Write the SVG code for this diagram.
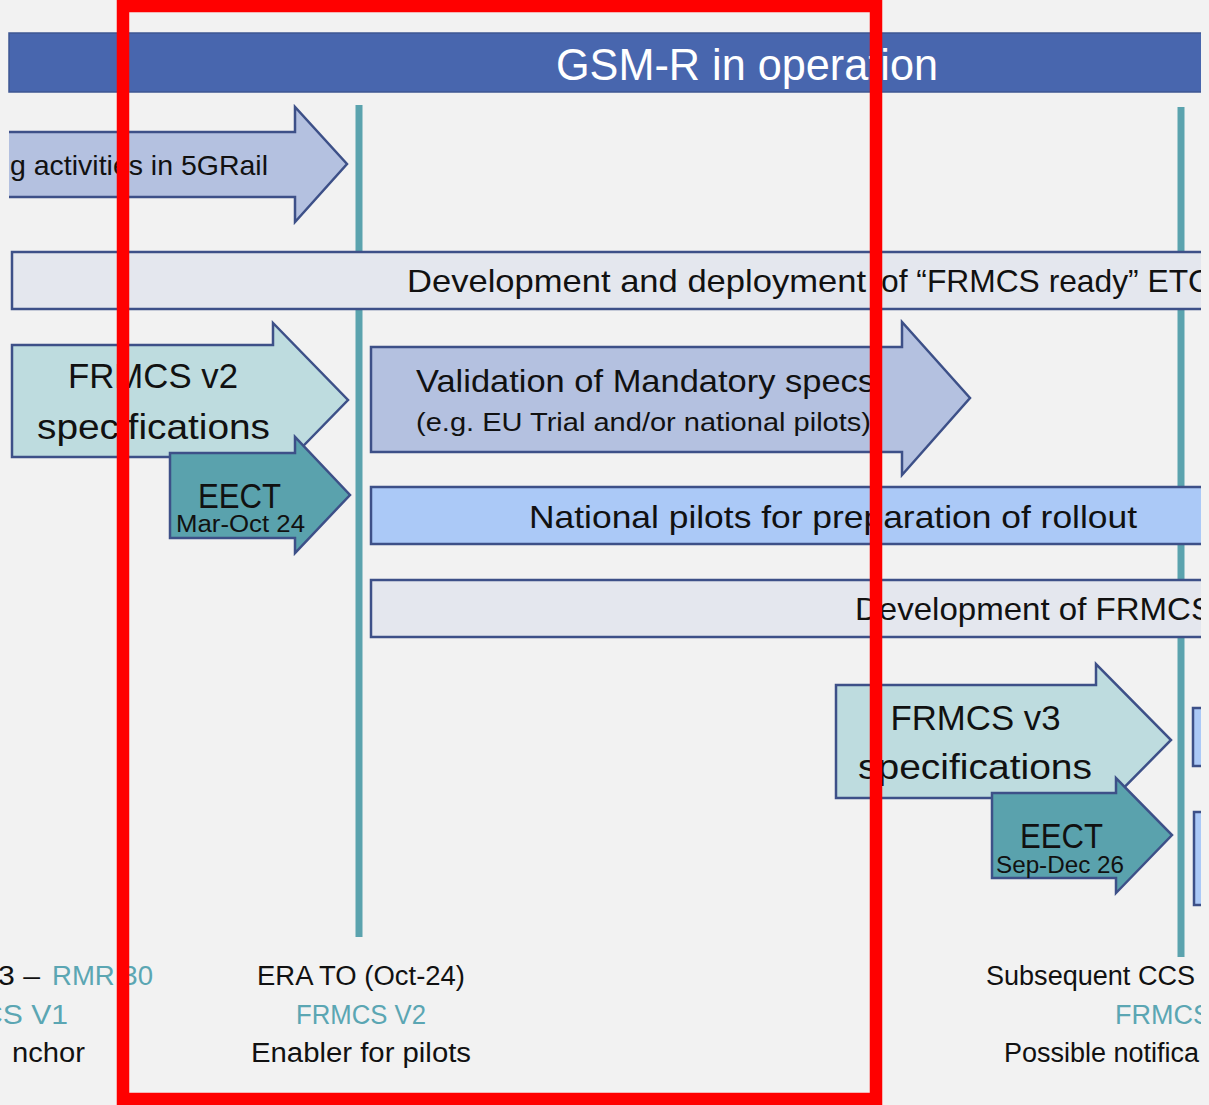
<svg xmlns="http://www.w3.org/2000/svg" width="1209" height="1105" viewBox="0 0 1209 1105">
<defs>
<clipPath id="clipR"><rect x="0" y="0" width="1201" height="1105"/></clipPath>
<style>
text{font-family:"Liberation Sans",Arial,sans-serif;fill:#111;}
.shape{stroke:#3d5088;stroke-width:2.5;}
.lav{fill:#b4c1e0;}
.aqua{fill:#bedcdf;}
.eect{fill:#5aa2ad;}
.blue{fill:#abc9f7;}
.grey{fill:#e4e7ee;}
.ms{stroke:#5ba3ae;stroke-width:7;}
.teal{fill:#5ba6b3;}
.t32{font-size:32px;}
.t35{font-size:35px;}
.t27{font-size:27px;}
</style>
</defs>
<rect x="0" y="0" width="1209" height="1105" fill="#f2f2f2"/>
<g clip-path="url(#clipR)">
<g id="banner">
<rect x="9" y="33" width="1200" height="59" fill="#4866ae" stroke="#3e5792" stroke-width="1.5"/>
<text x="747" y="80" text-anchor="middle" font-size="44" textLength="382" lengthAdjust="spacingAndGlyphs" style="fill:#ffffff">GSM-R in operation</text>
</g>
<g id="connectors">
<line class="ms" x1="359" y1="105" x2="359" y2="937"/>
<line class="ms" x1="1181" y1="107" x2="1181" y2="957"/>
</g>
<g id="n-5grail">
<path class="shape lav" d="M9,132 H295 V107 L347,164 L295,222 V197 H9"/>
<text x="10" y="175" font-size="28" textLength="258" lengthAdjust="spacingAndGlyphs">g activities in 5GRail</text>
</g>
<g id="n-etcs">
<rect class="shape grey" x="12" y="252" width="1210" height="57"/>
<text class="t32" y="292"><tspan x="407" textLength="459" lengthAdjust="spacingAndGlyphs">Development and deployment</tspan><tspan x="881" textLength="330" lengthAdjust="spacingAndGlyphs">of “FRMCS ready” ETC</tspan></text>
</g>
<g id="n-frmcs-v2">
<path class="shape aqua" d="M12,345 H273 V323 L348,400 L273,477 V457 H12 Z"/>
<text class="t35" x="153" y="388" text-anchor="middle" textLength="170" lengthAdjust="spacingAndGlyphs">FRMCS v2</text>
<text class="t35" x="153.5" y="439" text-anchor="middle" textLength="233" lengthAdjust="spacingAndGlyphs">specifications</text>
</g>
<g id="n-eect-v2">
<path class="shape eect" d="M170,453 H295 V437 L350,495 L295,553 V538 H170 Z"/>
<text class="t35" x="239.5" y="508" text-anchor="middle" textLength="83" lengthAdjust="spacingAndGlyphs">EECT</text>
<text x="240.5" y="532" font-size="23" text-anchor="middle" textLength="129" lengthAdjust="spacingAndGlyphs">Mar-Oct 24</text>
</g>
<g id="n-validation">
<path class="shape lav" d="M371,347 H902 V322 L970,398 L902,475 V452 H371 Z"/>
<text class="t32" x="416" y="392" textLength="459" lengthAdjust="spacingAndGlyphs">Validation of Mandatory specs</text>
<text x="416" y="431" font-size="25" textLength="455" lengthAdjust="spacingAndGlyphs">(e.g. EU Trial and/or national pilots)</text>
</g>
<g id="n-national-pilots">
<rect class="shape blue" x="371" y="487" width="850" height="57"/>
<text class="t32" x="833" y="528" text-anchor="middle" textLength="608" lengthAdjust="spacingAndGlyphs">National pilots for preparation of rollout</text>
</g>
<g id="n-dev-frmcs">
<rect class="shape grey" x="371" y="580" width="850" height="57"/>
<text class="t32" x="855" y="620" textLength="358" lengthAdjust="spacingAndGlyphs">Development of FRMCS</text>
</g>
<g id="n-frmcs-v3">
<path class="shape aqua" d="M836,685 H1096 V664 L1171,740 L1096,816 V798 H836 Z"/>
<text class="t35" x="975.5" y="730" text-anchor="middle" textLength="170" lengthAdjust="spacingAndGlyphs">FRMCS v3</text>
<text class="t35" x="975" y="779" text-anchor="middle" textLength="234" lengthAdjust="spacingAndGlyphs">specifications</text>
</g>
<g id="n-eect-v3">
<path class="shape eect" d="M992,793 H1116 V778 L1172,835 L1116,893 V878 H992 Z"/>
<text class="t35" x="1061.5" y="848" text-anchor="middle" textLength="83" lengthAdjust="spacingAndGlyphs">EECT</text>
<text x="1060" y="873" font-size="23" text-anchor="middle" textLength="128" lengthAdjust="spacingAndGlyphs">Sep-Dec 26</text>
</g>
<g id="n-right-1"><rect class="shape blue" x="1193" y="708" width="40" height="58"/></g>
<g id="n-right-2"><rect class="shape blue" x="1194" y="812" width="40" height="93"/></g>
<g id="m-left">
<text class="t27" x="-2" y="985" textLength="42" lengthAdjust="spacingAndGlyphs">3 –</text>
<text class="t27 teal" x="52" y="985" textLength="101" lengthAdjust="spacingAndGlyphs">RMR 30</text>
<text class="t27 teal" x="-19" y="1024" textLength="87" lengthAdjust="spacingAndGlyphs">CS V1</text>
<text class="t27" x="12" y="1062" textLength="73" lengthAdjust="spacingAndGlyphs">nchor</text>
</g>
<g id="m-era-to">
<text class="t27" x="361" y="985" text-anchor="middle" textLength="208" lengthAdjust="spacingAndGlyphs">ERA TO (Oct-24)</text>
<text class="t27 teal" x="361" y="1024" text-anchor="middle" textLength="130" lengthAdjust="spacingAndGlyphs">FRMCS V2</text>
<text class="t27" x="361" y="1062" text-anchor="middle" textLength="220" lengthAdjust="spacingAndGlyphs">Enabler for pilots</text>
</g>
<g id="m-subsequent">
<text class="t27" x="986" y="985" textLength="209" lengthAdjust="spacingAndGlyphs">Subsequent CCS</text>
<text class="t27 teal" x="1115" y="1024">FRMCS</text>
<text class="t27" x="1004" y="1062">Possible notifica</text>
</g>
</g>
<g id="highlight">
<rect x="123" y="6" width="753" height="1093" fill="none" stroke="#ff0000" stroke-width="12.5"/>
</g>
</svg>
